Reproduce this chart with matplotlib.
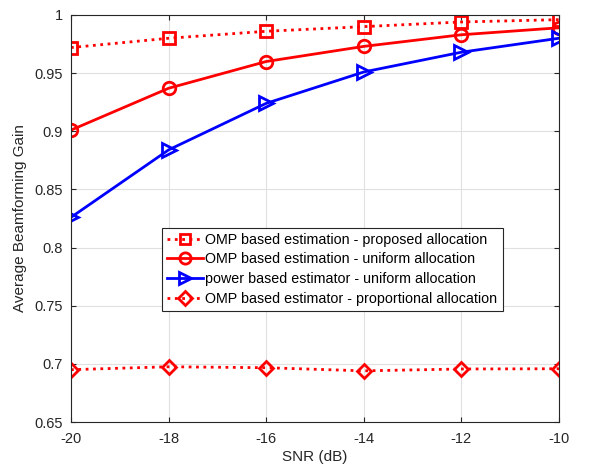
import matplotlib.pyplot as plt

plt.rcParams['font.family'] = ['Liberation Sans', 'DejaVu Sans']

snr = [-20, -18, -16, -14, -12, -10]
omp_proposed = [0.972, 0.980, 0.986, 0.990, 0.994, 0.996]
omp_uniform = [0.901, 0.937, 0.960, 0.973, 0.983, 0.989]
power_uniform = [0.826, 0.884, 0.924, 0.951, 0.968, 0.980]
omp_proportional = [0.695, 0.6975, 0.6967, 0.6940, 0.6956, 0.6958]

fig = plt.figure(figsize=(6.03, 4.70), dpi=100)
ax = fig.add_axes([0.1177, 0.1021, 0.8093, 0.8660])

ax.plot(snr, omp_proposed, 'r:s', lw=2, ms=8, mfc='none', mew=2,
        label='OMP based estimation - proposed allocation')
ax.plot(snr, omp_uniform, 'r-o', lw=2, ms=9, mfc='none', mew=2,
        label='OMP based estimation - uniform allocation')
ax.plot(snr, power_uniform, 'b->', lw=2, ms=10, mfc='none', mew=2,
        label='power based estimator - uniform allocation')
ax.plot(snr, omp_proportional, 'r:D', lw=2, ms=7.5, mfc='none', mew=2,
        label='OMP based estimator - proportional allocation')

ax.set_xlim(-20, -10)
ax.set_ylim(0.65, 1.0)
ax.set_xticks(snr)
ax.set_xticklabels([str(s) for s in snr])
ax.set_yticks([0.65, 0.7, 0.75, 0.8, 0.85, 0.9, 0.95, 1.0])
ax.set_yticklabels(['0.65', '0.7', '0.75', '0.8', '0.85', '0.9', '0.95', '1'])
ax.tick_params(direction='in', top=True, right=True, labelsize=10.5, colors='#262626')
ax.tick_params(axis='x', pad=7)
ax.tick_params(axis='y', pad=6)
ax.grid(True, color='#e0e0e0', lw=0.8)
ax.set_axisbelow(True)
for sp in ax.spines.values():
    sp.set_color('#262626')
    sp.set_linewidth(0.8)

ax.set_xlabel('SNR (dB)', fontsize=11, color='#262626', labelpad=3)
ax.set_ylabel('Average Beamforming Gain', fontsize=11, color='#262626', labelpad=5)

leg = ax.legend(loc='lower left', bbox_to_anchor=(0.186, 0.273), fontsize=10.3,
                fancybox=False, edgecolor='#262626', framealpha=1, markerscale=0.9,
                handlelength=2.5, borderpad=0.35, labelspacing=0.4, handletextpad=0.2,
                borderaxespad=0)
leg.get_frame().set_linewidth(0.8)

fig.savefig('out.png', dpi=100)
